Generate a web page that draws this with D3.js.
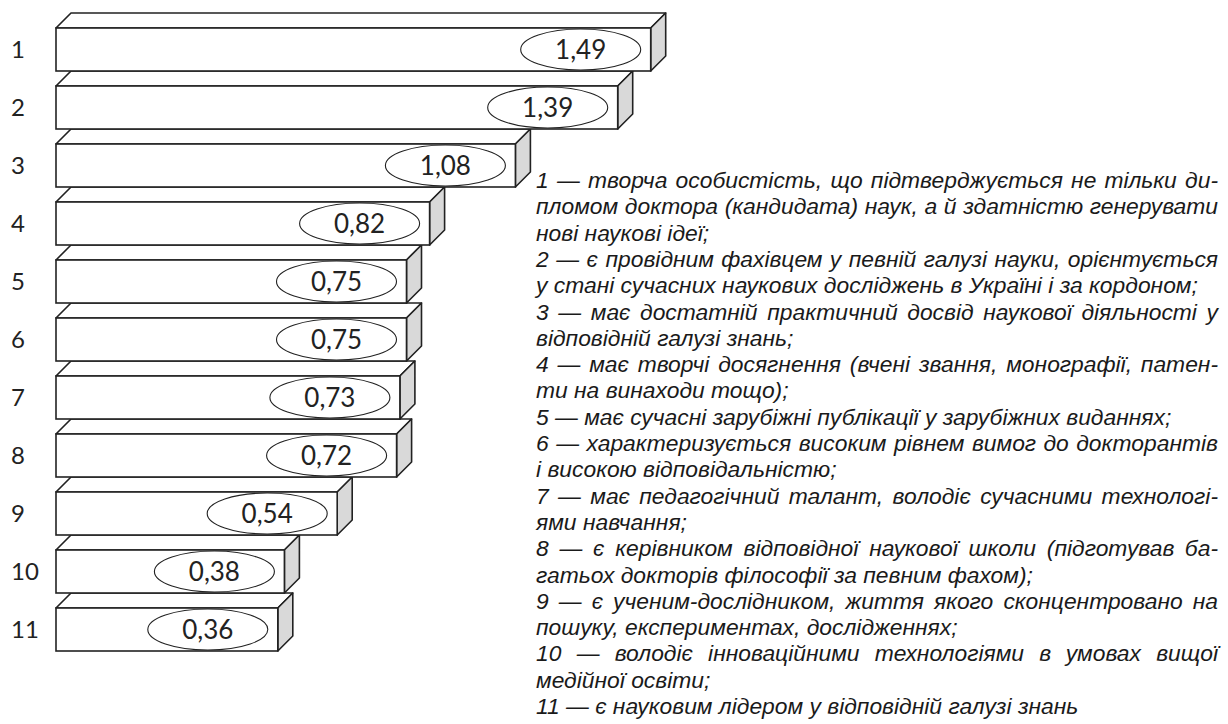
<!DOCTYPE html>
<html>
<head>
<meta charset="utf-8">
<script src="https://cdn.jsdelivr.net/npm/d3@7"></script>
<style>
  body { margin: 0; background: #fff; }
</style>
</head>
<body>
<div id="chart"></div>
<script>
// ranks of the features (1..11) and their weights
var categories = ["1", "2", "3", "4", "5", "6", "7", "8", "9", "10", "11"];
var values = [1.49, 1.39, 1.08, 0.82, 0.75, 0.75, 0.73, 0.72, 0.54, 0.38, 0.36];

// legend lines, as set in the original
var legendLines = [
  "1 — творча особистість, що підтверджується не тільки ди-",
  "пломом доктора (кандидата) наук, а й здатністю генерувати",
  "нові наукові ідеї;",
  "2 — є провідним фахівцем у певній галузі науки, орієнтується",
  "у стані сучасних наукових досліджень в Україні і за кордоном;",
  "3 — має достатній практичний досвід наукової діяльності у",
  "відповідній галузі знань;",
  "4 — має творчі досягнення (вчені звання, монографії, патен-",
  "ти на винаходи тощо);",
  "5 — має сучасні зарубіжні публікації у зарубіжних виданнях;",
  "6 — характеризується високим рівнем вимог до докторантів",
  "і високою відповідальністю;",
  "7 — має педагогічний талант, володіє сучасними технологі-",
  "ями навчання;",
  "8 — є керівником відповідної наукової школи (підготував ба-",
  "гатьох докторів філософії за певним фахом);",
  "9 — є ученим-дослідником, життя якого сконцентровано на",
  "пошуку, експериментах, дослідженнях;",
  "10 — володіє інноваційними технологіями в умовах вищої",
  "медійної освіти;",
  "11 — є науковим лідером у відповідній галузі знань"
];

var width = 1228, height = 724;

var svg = d3.select("#chart")
  .append("svg")
  .attr("width", width)
  .attr("height", height);

// bar geometry
var barLeft = 56, depth = 15;

var y = d3.scaleBand()
  .domain(categories)
  .range([28, 651])
  .paddingInner(15 / 58)
  .paddingOuter(0);

// value -> right end of the front face (bars start at barLeft)
var x = d3.scaleLinear()
  .domain([0, 1.5])
  .range([159, 654]);

var fmt = d3.formatLocale({ decimal: ",", thousands: " ", grouping: [3], currency: ["", ""] }).format(".2f");

var data = categories.map(function (c, i) { return { cat: c, value: values[i] }; });

var labelFont = "'Lato', 'Noto Sans', sans-serif";

// draw from the bottom bar up so upper bars sit on top
var bars = svg.selectAll("g.bar")
  .data(data.slice().reverse())
  .enter()
  .append("g")
  .attr("class", "bar");

bars.each(function (d) {
  var g = d3.select(this);
  var t = y(d.cat), h = y.bandwidth(), r = x(d.value);

  // top face
  g.append("path")
    .attr("d", "M" + barLeft + "," + t + "L" + (barLeft + depth) + "," + (t - depth) +
      "L" + (r + depth) + "," + (t - depth) + "L" + r + "," + t + "Z")
    .style("fill", "#fff")
    .style("stroke", "#222")
    .style("stroke-width", 1.6)
    .style("stroke-linejoin", "round");

  // side face
  g.append("path")
    .attr("d", "M" + r + "," + t + "L" + (r + depth) + "," + (t - depth) +
      "L" + (r + depth) + "," + (t + h - depth) + "L" + r + "," + (t + h) + "Z")
    .style("fill", "#d9d9d9")
    .style("stroke", "#222")
    .style("stroke-width", 1.6)
    .style("stroke-linejoin", "round");

  // front face
  g.append("rect")
    .attr("x", barLeft)
    .attr("y", t)
    .attr("width", r - barLeft)
    .attr("height", h)
    .style("fill", "#fff")
    .style("stroke", "#222")
    .style("stroke-width", 1.6);

  // value in an ellipse
  g.append("ellipse")
    .attr("cx", r - 70)
    .attr("cy", t + h / 2)
    .attr("rx", 60)
    .attr("ry", 20.5)
    .style("fill", "#fff")
    .style("stroke", "#222")
    .style("stroke-width", 1.1);

  g.append("text")
    .attr("x", r - 70)
    .attr("y", t + h / 2)
    .attr("dy", "0.36em")
    .attr("text-anchor", "middle")
    .style("font-family", labelFont)
    .style("font-size", "26px")
    .style("fill", "#222")
    .text(fmt(d.value));
});

// category numbers on the left
svg.selectAll("text.cat")
  .data(data)
  .enter()
  .append("text")
  .attr("class", "cat")
  .attr("x", 11)
  .attr("y", function (d) { return y(d.cat) + y.bandwidth() / 2; })
  .attr("dy", "0.36em")
  .style("font-family", labelFont)
  .style("font-size", "24px")
  .style("fill", "#222")
  .text(function (d) { return d.cat; });

// legend: justified italic text block
var legLeft = 536, legRight = 1218, legTop = 188, legStep = 26.3;
var legW = legRight - legLeft;
var legFont = "'Liberation Sans', Arial, sans-serif";

var legend = svg.append("g").attr("class", "legend");

function isLast(i) {
  return i === legendLines.length - 1 || /^\d+ —/.test(legendLines[i + 1]);
}

// pick the font size at which the tightest line just fills the column
var fontSize = 21;
var probe = legend.append("text")
  .style("font-family", legFont)
  .style("font-style", "italic")
  .style("font-size", fontSize + "px");
var maxW = 0;
legendLines.forEach(function (s, i) {
  if (isLast(i)) return;
  probe.text(s);
  maxW = Math.max(maxW, probe.node().getComputedTextLength());
});
probe.remove();
fontSize = fontSize * (legW - 2) / maxW;

legendLines.forEach(function (s, i) {
  var ty = legTop + i * legStep;
  var txt = legend.append("text")
    .attr("y", ty)
    .style("font-family", legFont)
    .style("font-style", "italic")
    .style("font-size", fontSize + "px")
    .style("fill", "#1a1a1a");

  if (isLast(i)) {
    txt.attr("x", legLeft).text(s);
    return;
  }
  var words = s.split(" ");
  var spans = words.map(function (w) { return txt.append("tspan").text(w); });
  var widths = spans.map(function (sp) { return sp.node().getComputedTextLength(); });
  var gap = (legW - d3.sum(widths)) / (words.length - 1);
  var cx = legLeft;
  spans.forEach(function (sp, k) {
    sp.attr("x", cx).attr("y", ty);
    cx += widths[k] + gap;
  });
});
</script>
</body>
</html>
